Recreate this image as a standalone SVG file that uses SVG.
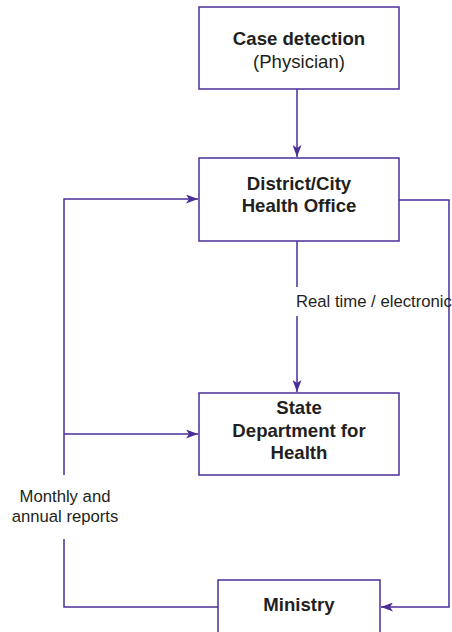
<svg xmlns="http://www.w3.org/2000/svg" width="452" height="632" viewBox="0 0 452 632">
<style>
.box{fill:#fff;stroke:#4b2e98;stroke-width:1.5}
.ln{fill:none;stroke:#4b2e98;stroke-width:1.5}
.t{font-family:"Liberation Sans",Arial,sans-serif;fill:#231f20}
.b{font-size:18.6px;font-weight:bold;text-anchor:middle}
.r{font-size:18.6px;text-anchor:middle}
.l{font-size:16.7px}
</style>
<defs>
<marker id="ah" markerUnits="userSpaceOnUse" markerWidth="13" markerHeight="9" refX="12" refY="4.5" orient="auto">
<path d="M0,0 L12,4.5 L0,9 L3,4.5 Z" fill="#4b2e98"/>
</marker>
</defs>
<rect width="452" height="632" fill="#fff"/>
<g id="connectors">
<line class="ln" x1="297" y1="89" x2="297" y2="157" marker-end="url(#ah)"/>
<line class="ln" x1="297" y1="241" x2="297" y2="287"/>
<line class="ln" x1="297" y1="316" x2="297" y2="392" marker-end="url(#ah)"/>
<polyline class="ln" points="399,200 449,200 449,607 381,607" marker-end="url(#ah)"/>
<polyline class="ln" points="218,607 64,607 64,539"/>
<polyline class="ln" points="64,475 64,199 198,199" marker-end="url(#ah)"/>
<line class="ln" x1="64" y1="434" x2="198" y2="434" marker-end="url(#ah)"/>
<text class="t l" x="296" y="307">Real time / electronic</text>
<text class="t l" x="65" y="502" text-anchor="middle">Monthly and</text>
<text class="t l" x="65" y="522" text-anchor="middle">annual reports</text>
</g>
<g id="case">
<rect class="box" x="199" y="7" width="200" height="82"/>
<text class="t b" x="299" y="45">Case detection</text>
<text class="t r" x="299" y="68">(Physician)</text>
</g>
<g id="district">
<rect class="box" x="199" y="158" width="200" height="83"/>
<text class="t b" x="299" y="190">District/City</text>
<text class="t b" x="299" y="212">Health Office</text>
</g>
<g id="state">
<rect class="box" x="199" y="393" width="200" height="82"/>
<text class="t b" x="299" y="414">State</text>
<text class="t b" x="299" y="437">Department for</text>
<text class="t b" x="299" y="459">Health</text>
</g>
<g id="ministry">
<rect class="box" x="218" y="580" width="162" height="60"/>
<text class="t b" x="299" y="611">Ministry</text>
</g>
</svg>
